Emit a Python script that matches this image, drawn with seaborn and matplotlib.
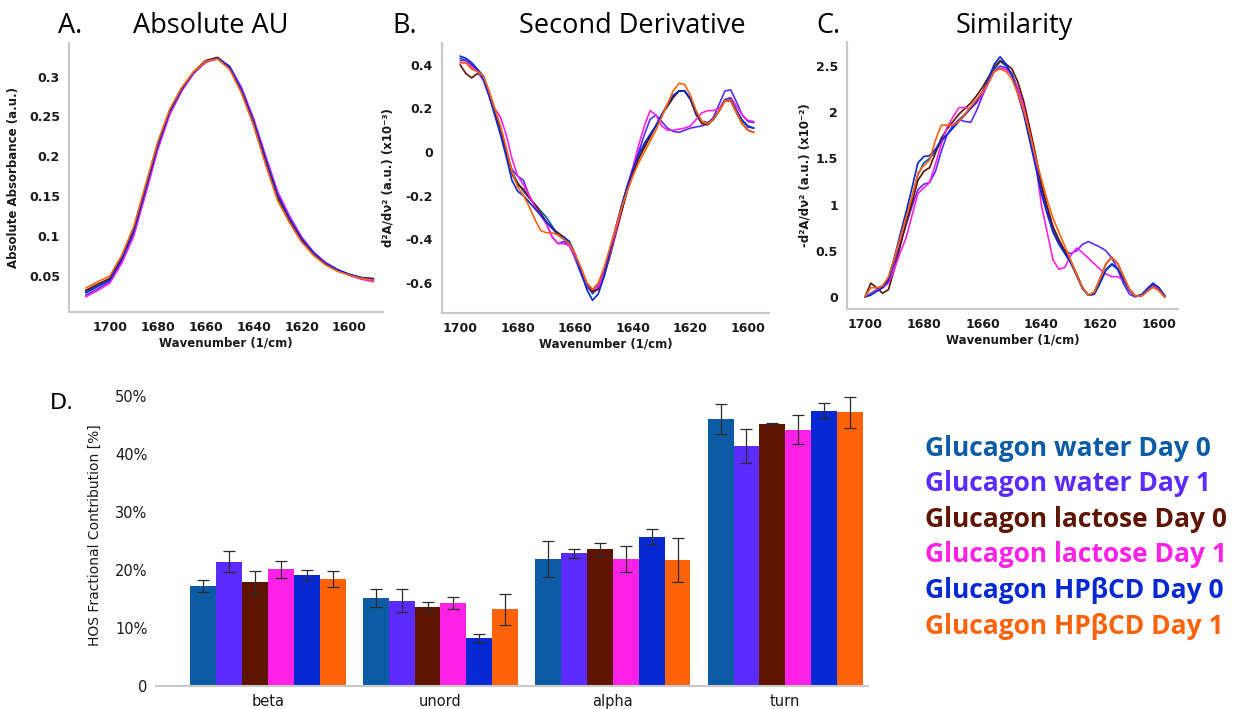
import numpy as np
import pandas as pd
import matplotlib
matplotlib.use("Agg")
import matplotlib.pyplot as plt
from matplotlib.ticker import FuncFormatter
import seaborn as sns

sns.set_style("white")
plt.rcParams["font.family"] = ["DejaVu Sans"]
plt.rcParams["axes.unicode_minus"] = False

# ---- data ----
samples = ["Glucagon water Day 0", "Glucagon water Day 1",
           "Glucagon lactose Day 0", "Glucagon lactose Day 1",
           "Glucagon HPβCD Day 0", "Glucagon HPβCD Day 1"]
colors = ["#0b5ca5", "#5b2bff", "#5e1400", "#ff22e6", "#0629d4", "#ff6208"]

# A. absolute absorbance, 1710 -> 1590 step 5
wn_a = list(range(1710, 1589, -5))
a_water0 = [0.030, 0.038, 0.045, 0.072, 0.107, 0.160, 0.214, 0.256, 0.284, 0.305, 0.319, 0.323, 0.311,
            0.282, 0.242, 0.195, 0.150, 0.121, 0.096, 0.078, 0.066, 0.058, 0.052, 0.048, 0.046]
a_water1 = [0.026, 0.034, 0.043, 0.068, 0.102, 0.155, 0.210, 0.253, 0.282, 0.304, 0.318, 0.323, 0.313,
            0.286, 0.247, 0.200, 0.155, 0.125, 0.099, 0.080, 0.067, 0.058, 0.051, 0.047, 0.044]
a_lact0 = [0.032, 0.040, 0.047, 0.073, 0.108, 0.161, 0.215, 0.257, 0.285, 0.306, 0.320, 0.324, 0.311,
           0.281, 0.240, 0.192, 0.147, 0.118, 0.094, 0.077, 0.065, 0.057, 0.052, 0.048, 0.047]
a_lact1 = [0.024, 0.032, 0.041, 0.066, 0.100, 0.153, 0.208, 0.252, 0.282, 0.304, 0.318, 0.322, 0.312,
           0.285, 0.247, 0.201, 0.156, 0.125, 0.099, 0.080, 0.067, 0.058, 0.051, 0.046, 0.043]
a_hp0 = [0.029, 0.037, 0.045, 0.071, 0.106, 0.159, 0.213, 0.256, 0.284, 0.305, 0.319, 0.323, 0.312,
         0.283, 0.244, 0.197, 0.152, 0.122, 0.097, 0.079, 0.066, 0.058, 0.052, 0.048, 0.046]
a_hp1 = [0.035, 0.043, 0.050, 0.076, 0.112, 0.165, 0.218, 0.259, 0.286, 0.306, 0.319, 0.322, 0.309,
         0.279, 0.239, 0.190, 0.145, 0.117, 0.093, 0.076, 0.064, 0.056, 0.051, 0.047, 0.045]

# B. second derivative (x10^-3), 1700 -> 1598 step 2
wn_b = list(range(1700, 1597, -2))
b_water0 = [0.43, 0.42, 0.40, 0.38, 0.35, 0.27, 0.19, 0.11, 0.01, -0.09, -0.14, -0.18, -0.21, -0.24,
            -0.27, -0.30, -0.34, -0.38, -0.40, -0.42, -0.48, -0.55, -0.61, -0.65, -0.62, -0.55, -0.46,
            -0.37, -0.27, -0.18, -0.10, -0.03, 0.03, 0.08, 0.12, 0.17, 0.21, 0.25, 0.28, 0.28, 0.245,
            0.18, 0.14, 0.13, 0.15, 0.19, 0.24, 0.24, 0.19, 0.145, 0.12, 0.11]
b_water1 = [0.42, 0.42, 0.40, 0.37, 0.33, 0.26, 0.18, 0.10, 0.00, -0.08, -0.11, -0.13, -0.20, -0.25,
            -0.29, -0.33, -0.39, -0.42, -0.41, -0.43, -0.49, -0.56, -0.62, -0.64, -0.61, -0.54, -0.45,
            -0.35, -0.25, -0.16, -0.08, 0.00, 0.08, 0.15, 0.17, 0.14, 0.11, 0.095, 0.09, 0.10, 0.11,
            0.115, 0.12, 0.13, 0.16, 0.22, 0.28, 0.285, 0.23, 0.17, 0.14, 0.135]
b_lact0 = [0.40, 0.36, 0.34, 0.36, 0.35, 0.28, 0.19, 0.11, 0.01, -0.10, -0.15, -0.17, -0.21, -0.24,
           -0.28, -0.32, -0.35, -0.37, -0.39, -0.42, -0.47, -0.54, -0.60, -0.64, -0.63, -0.57, -0.48,
           -0.38, -0.28, -0.18, -0.10, -0.03, 0.02, 0.07, 0.12, 0.17, 0.21, 0.25, 0.28, 0.28, 0.24,
           0.17, 0.13, 0.125, 0.15, 0.19, 0.235, 0.235, 0.18, 0.13, 0.10, 0.09]
b_lact1 = [0.41, 0.41, 0.39, 0.37, 0.34, 0.28, 0.20, 0.16, 0.08, -0.03, -0.11, -0.15, -0.20, -0.25,
           -0.29, -0.33, -0.39, -0.42, -0.42, -0.43, -0.48, -0.54, -0.60, -0.63, -0.62, -0.56, -0.47,
           -0.37, -0.26, -0.16, -0.07, 0.03, 0.12, 0.19, 0.17, 0.12, 0.10, 0.10, 0.105, 0.11, 0.12,
           0.15, 0.18, 0.19, 0.19, 0.20, 0.24, 0.25, 0.21, 0.17, 0.145, 0.14]
b_hp0 = [0.44, 0.43, 0.41, 0.38, 0.34, 0.26, 0.17, 0.08, -0.02, -0.13, -0.18, -0.20, -0.23, -0.26,
         -0.29, -0.32, -0.35, -0.38, -0.39, -0.41, -0.47, -0.55, -0.63, -0.68, -0.65, -0.57, -0.46,
         -0.35, -0.25, -0.16, -0.08, -0.01, 0.04, 0.08, 0.12, 0.17, 0.22, 0.26, 0.28, 0.28, 0.245,
         0.18, 0.14, 0.135, 0.15, 0.19, 0.24, 0.245, 0.19, 0.145, 0.115, 0.11]
b_hp1 = [0.41, 0.41, 0.38, 0.37, 0.35, 0.28, 0.20, 0.12, 0.02, -0.09, -0.16, -0.20, -0.25, -0.31,
         -0.36, -0.37, -0.37, -0.38, -0.40, -0.42, -0.47, -0.53, -0.60, -0.63, -0.60, -0.53, -0.44,
         -0.35, -0.26, -0.18, -0.11, -0.05, 0.00, 0.05, 0.10, 0.16, 0.22, 0.28, 0.315, 0.31, 0.26,
         0.19, 0.14, 0.13, 0.15, 0.19, 0.235, 0.24, 0.18, 0.13, 0.10, 0.09]

# C. similarity (x10^-2), 1700 -> 1598 step 2
wn_c = list(range(1700, 1597, -2))
c_water0 = [0.00, 0.04, 0.08, 0.12, 0.20, 0.42, 0.65, 0.86, 1.08, 1.32, 1.45, 1.50, 1.58, 1.68, 1.76,
            1.84, 1.92, 1.98, 2.05, 2.13, 2.22, 2.34, 2.46, 2.55, 2.50, 2.42, 2.26, 2.05, 1.78, 1.50,
            1.18, 0.95, 0.74, 0.60, 0.48, 0.38, 0.24, 0.10, 0.02, 0.03, 0.16, 0.30, 0.36, 0.31, 0.19,
            0.07, 0.01, 0.02, 0.08, 0.13, 0.08, 0.00]
c_water1 = [0.00, 0.03, 0.07, 0.11, 0.17, 0.36, 0.58, 0.78, 0.98, 1.16, 1.22, 1.24, 1.36, 1.58, 1.76,
            1.86, 1.92, 1.90, 1.89, 2.02, 2.18, 2.32, 2.44, 2.50, 2.48, 2.40, 2.24, 2.02, 1.74, 1.46,
            1.16, 0.92, 0.72, 0.58, 0.50, 0.47, 0.50, 0.57, 0.60, 0.57, 0.54, 0.50, 0.42, 0.30, 0.14,
            0.03, 0.00, 0.02, 0.08, 0.14, 0.10, 0.01]
c_lact0 = [0.00, 0.15, 0.10, 0.04, 0.08, 0.30, 0.55, 0.80, 1.02, 1.26, 1.36, 1.40, 1.56, 1.72, 1.82,
           1.90, 1.98, 2.04, 2.10, 2.18, 2.27, 2.38, 2.49, 2.56, 2.52, 2.47, 2.33, 2.12, 1.84, 1.55,
           1.22, 0.98, 0.76, 0.62, 0.50, 0.39, 0.25, 0.10, 0.02, 0.05, 0.20, 0.36, 0.43, 0.36, 0.22,
           0.08, 0.01, 0.01, 0.06, 0.11, 0.07, 0.00]
c_lact1 = [0.00, 0.03, 0.07, 0.10, 0.15, 0.30, 0.48, 0.64, 0.88, 1.12, 1.18, 1.24, 1.44, 1.66, 1.84,
           1.95, 2.05, 2.05, 2.04, 2.10, 2.20, 2.32, 2.44, 2.48, 2.46, 2.40, 2.26, 2.06, 1.78, 1.48,
           1.00, 0.70, 0.40, 0.30, 0.32, 0.45, 0.53, 0.48, 0.42, 0.36, 0.30, 0.25, 0.22, 0.22, 0.18,
           0.08, 0.01, 0.01, 0.06, 0.11, 0.09, 0.02]
c_hp0 = [0.00, 0.02, 0.06, 0.10, 0.18, 0.42, 0.68, 0.92, 1.18, 1.45, 1.52, 1.53, 1.60, 1.70, 1.76,
         1.83, 1.90, 1.97, 2.04, 2.12, 2.22, 2.36, 2.52, 2.60, 2.52, 2.40, 2.20, 1.98, 1.70, 1.42,
         1.12, 0.90, 0.70, 0.57, 0.47, 0.37, 0.23, 0.09, 0.02, 0.03, 0.15, 0.29, 0.35, 0.30, 0.18,
         0.07, 0.01, 0.02, 0.09, 0.15, 0.10, 0.01]
c_hp1 = [0.00, 0.10, 0.10, 0.12, 0.22, 0.42, 0.64, 0.86, 1.08, 1.34, 1.42, 1.48, 1.70, 1.86, 1.86,
         1.86, 1.90, 1.98, 2.06, 2.14, 2.22, 2.32, 2.44, 2.47, 2.44, 2.36, 2.20, 2.02, 1.78, 1.52,
         1.28, 1.05, 0.85, 0.70, 0.55, 0.40, 0.24, 0.10, 0.02, 0.05, 0.20, 0.36, 0.43, 0.36, 0.22,
         0.08, 0.01, 0.01, 0.06, 0.11, 0.07, 0.00]

# D. HOS fractional contribution [%]
structures = ["beta", "unord", "alpha", "turn"]
hos_water0 = [17.2, 15.2, 21.9, 46.1]
hos_water1 = [21.4, 14.7, 22.9, 41.4]
hos_lact0 = [17.9, 13.6, 23.6, 45.2]
hos_lact1 = [20.1, 14.3, 21.9, 44.2]
hos_hp0 = [19.1, 8.2, 25.7, 47.5]
hos_hp1 = [18.4, 13.2, 21.7, 47.2]
err_water0 = [1.0, 1.5, 3.1, 2.6]
err_water1 = [1.8, 2.0, 0.75, 2.9]
err_lact0 = [2.0, 0.9, 1.1, 0.15]
err_lact1 = [1.5, 1.1, 2.2, 2.5]
err_hp0 = [0.85, 0.7, 1.3, 1.3]
err_hp1 = [1.4, 2.7, 3.8, 2.7]


def long_df(wn, series):
    frames = [pd.DataFrame({"wavenumber": wn, "value": vals, "sample": name})
              for name, vals in zip(samples, series)]
    return pd.concat(frames, ignore_index=True)


df_a = long_df(wn_a, [a_water0, a_water1, a_lact0, a_lact1, a_hp0, a_hp1])
df_b = long_df(wn_b, [b_water0, b_water1, b_lact0, b_lact1, b_hp0, b_hp1])
df_c = long_df(wn_c, [c_water0, c_water1, c_lact0, c_lact1, c_hp0, c_hp1])

hos = [hos_water0, hos_water1, hos_lact0, hos_lact1, hos_hp0, hos_hp1]
errs = [err_water0, err_water1, err_lact0, err_lact1, err_hp0, err_hp1]
df_d = pd.concat([pd.DataFrame({"structure": structures, "value": v, "sample": s})
                  for s, v in zip(samples, hos)], ignore_index=True)

palette = dict(zip(samples, colors))

# ---- figure ----
W, H = 1241, 709
fig = plt.figure(figsize=(W / 100, H / 100), dpi=100)


def rect(l, t, r, b):
    return [l / W, 1 - b / H, (r - l) / W, (b - t) / H]


axA = fig.add_axes(rect(69, 43, 383, 312))
axB = fig.add_axes(rect(442, 43, 769, 313))
axC = fig.add_axes(rect(847, 42, 1178, 309))
axD = fig.add_axes(rect(156, 385, 868, 686))

spine_col = "#c9c9c9"
tick_font = dict(fontsize=9, fontweight="bold", color="#1a1a1a")

for ax, df in [(axA, df_a), (axB, df_b), (axC, df_c)]:
    sns.lineplot(data=df, x="wavenumber", y="value", hue="sample", palette=palette,
                 estimator=None, sort=False, legend=False, linewidth=1.2, ax=ax)
    sns.despine(ax=ax)
    for s in ["left", "bottom"]:
        ax.spines[s].set_color(spine_col)
        ax.spines[s].set_linewidth(1.5)
    ax.tick_params(axis="both", colors=spine_col, length=4, width=1.2, direction="out", pad=2.5)
    ax.set_xticks([1700, 1680, 1660, 1640, 1620, 1600])
    ax.set_xlabel("Wavenumber (1/cm)", fontsize=8.5, fontweight="bold", color="#1a1a1a", labelpad=2)
    ax.yaxis.set_major_formatter(FuncFormatter(lambda v, p: f"{v:g}"))

axA.set_xlim(1717, 1586)
axA.set_ylim(0.005, 0.342)
axA.set_yticks([0.05, 0.1, 0.15, 0.2, 0.25, 0.3])
axA.set_ylabel("Absolute Absorbance (a.u.)", fontsize=8.5, fontweight="bold", color="#1a1a1a")
axA.yaxis.set_label_coords(-0.156, 0.5)

axB.set_xlim(1706.3, 1592.7)
axB.set_ylim(-0.738, 0.5)
axB.set_yticks([-0.6, -0.4, -0.2, 0, 0.2, 0.4])
axB.set_ylabel("d²A/dν² (a.u.) (x10⁻³)", fontsize=8.5, fontweight="bold", color="#1a1a1a")
axB.yaxis.set_label_coords(-0.144, 0.5)

axC.set_xlim(1706.1, 1593.5)
axC.set_ylim(-0.13, 2.76)
axC.set_yticks([0, 0.5, 1, 1.5, 2, 2.5])
axC.set_ylabel("-d²A/dν² (a.u.) (x10⁻²)", fontsize=8.5, fontweight="bold", color="#1a1a1a")
axC.yaxis.set_label_coords(-0.106, 0.5)

for ax in (axA, axB, axC):
    for lab in ax.get_xticklabels() + ax.get_yticklabels():
        lab.set(**tick_font)

# bars
sns.barplot(data=df_d, x="structure", y="value", hue="sample", palette=palette,
            errorbar=None, width=0.9, saturation=1, legend=False, linewidth=0, ax=axD)
bar_containers = list(axD.containers)
for i, cont in enumerate(bar_containers):
    xs = [p.get_x() + p.get_width() / 2 for p in cont.patches]
    axD.errorbar(xs, hos[i], yerr=errs[i], fmt="none", ecolor="#2b2b2b",
                 elinewidth=0.9, capsize=4, capthick=0.9)
axD.set_xlim(-0.65, 3.48)
axD.set_ylim(0, 51.9)
axD.set_yticks([0, 10, 20, 30, 40, 50])
axD.yaxis.set_major_formatter(FuncFormatter(lambda v, p: "0" if v == 0 else f"{v:.0f}%"))
sns.despine(ax=axD, left=True)
axD.spines["bottom"].set_color(spine_col)
axD.spines["bottom"].set_linewidth(1.5)
axD.tick_params(axis="both", length=0, labelsize=10.5, labelcolor="#1a1a1a", pad=6)
axD.set_xlabel("")
axD.set_ylabel("HOS Fractional Contribution [%]", fontsize=10, color="#1a1a1a")
axD.yaxis.set_label_coords(-0.076, 0.5)

# titles
title_font = dict(family=["Open Sans", "DejaVu Sans"], fontsize=19.5, color="black", va="center")
for txt, x in [("A.", 70), ("Absolute AU", 211), ("B.", 405), ("Second Derivative", 632),
               ("C.", 828), ("Similarity", 1014)]:
    fig.text(x / W, 1 - 26 / H, txt, ha="center", **title_font)
fig.text(62 / W, 1 - 403 / H, "D.", ha="center", va="center", fontsize=16, color="black")

# legend as coloured text
for k, (name, col) in enumerate(zip(samples, colors)):
    fig.text(925 / W, 1 - (448 + 35.6 * k) / H, name, color=col, ha="left", va="center",
             family=["Open Sans", "DejaVu Sans"], fontweight="bold", fontsize=19)

fig.savefig("out.png", dpi=100)
